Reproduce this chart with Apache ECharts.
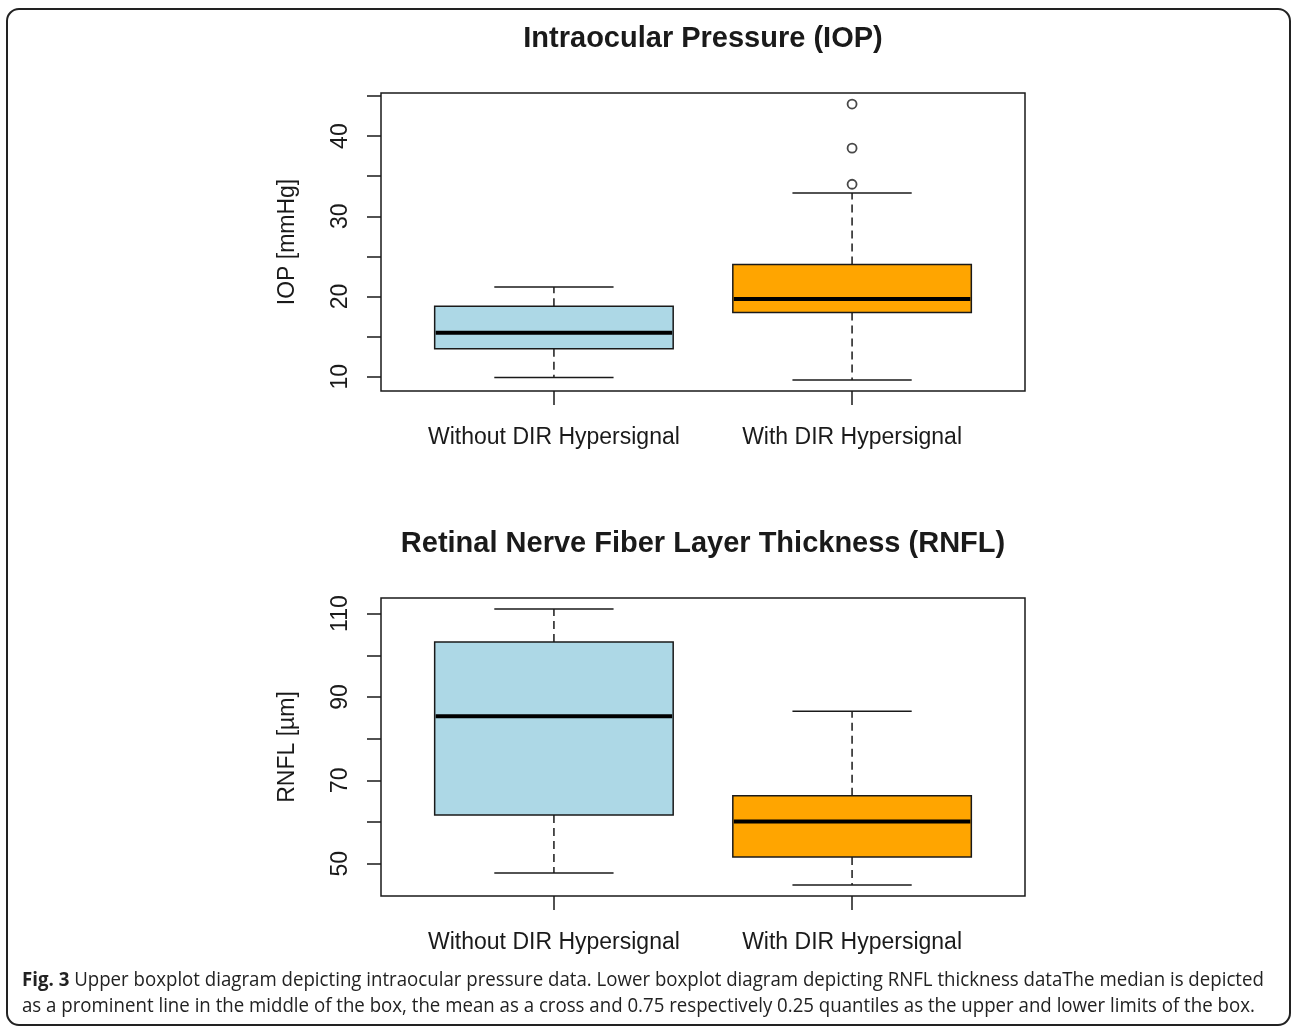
<!DOCTYPE html>
<html>
<head>
<meta charset="utf-8">
<title>IOP and RNFL boxplots</title>
<script src="https://cdn.jsdelivr.net/npm/echarts@6/dist/echarts.min.js"></script>
<style>
  html, body { margin: 0; padding: 0; background: #fff; }
  #chart { width: 1292px; height: 1027px; }
</style>
</head>
<body>
<div id="chart"></div>
<script>
// groups on the x axis (positions 1 and 2)
const groups = ['Without DIR Hypersignal', 'With DIR Hypersignal'];

// five-number summaries: [lower whisker, Q1, median, Q3, upper whisker]
const iopStats = [
  [9.9, 13.5, 15.5, 18.8, 21.2],
  [9.6, 18.0, 19.7, 24.0, 32.9]
];
const iopOutliers = [[], [34.0, 38.5, 44.0]];

const rnflStats = [
  [47.8, 61.7, 85.4, 103.2, 111.1],
  [44.9, 51.6, 60.1, 66.3, 86.6]
];
const rnflOutliers = [[], []];

// tick marks / labelled ticks
const iopTicks = [10, 15, 20, 25, 30, 35, 40, 45];
const iopLabels = [10, 20, 30, 40];
const rnflTicks = [50, 60, 70, 80, 90, 100, 110];
const rnflLabels = [50, 70, 90, 110];

const boxColors = ['#ADD8E6', '#FFA500'];
const ink = '#1a1a1a';
const rFont = '"Liberation Sans", Arial, sans-serif';

// R-like limits: data range padded 4% each side
function limits(stats, outliers) {
  let lo = Infinity, hi = -Infinity;
  stats.forEach((s, i) => {
    s.concat(outliers[i]).forEach(v => { lo = Math.min(lo, v); hi = Math.max(hi, v); });
  });
  const pad = (hi - lo) * 0.04;
  return [lo - pad, hi + pad];
}

function renderBox(params, api) {
  const x = api.value(0);
  const lo = api.coord([x, api.value(1)]);
  const q1 = api.coord([x, api.value(2)]);
  const med = api.coord([x, api.value(3)]);
  const q3 = api.coord([x, api.value(4)]);
  const hi = api.coord([x, api.value(5)]);
  const boxW = api.size([0.8, 0])[0];
  const capW = api.size([0.4, 0])[0];
  const cx = lo[0];
  const dashed = { stroke: ink, lineWidth: 1.5, lineDash: [8, 5] };
  const solid = { stroke: ink, lineWidth: 1.5 };
  return {
    type: 'group',
    children: [
      { type: 'line', shape: { x1: cx, y1: q3[1], x2: cx, y2: hi[1] }, style: dashed },
      { type: 'line', shape: { x1: cx, y1: q1[1], x2: cx, y2: lo[1] }, style: dashed },
      { type: 'line', shape: { x1: cx - capW / 2, y1: hi[1], x2: cx + capW / 2, y2: hi[1] }, style: solid },
      { type: 'line', shape: { x1: cx - capW / 2, y1: lo[1], x2: cx + capW / 2, y2: lo[1] }, style: solid },
      { type: 'rect', shape: { x: cx - boxW / 2, y: q3[1], width: boxW, height: q1[1] - q3[1] },
        style: { fill: boxColors[params.dataIndex], stroke: ink, lineWidth: 1.5 } },
      { type: 'line', shape: { x1: cx - boxW / 2 + 1, y1: med[1], x2: cx + boxW / 2 - 1, y2: med[1] },
        style: { stroke: '#000', lineWidth: 4 } }
    ]
  };
}

function boxData(stats) {
  return stats.map((s, i) => [i + 1].concat(s));
}
function outlierData(outliers) {
  const out = [];
  outliers.forEach((arr, i) => arr.forEach(v => out.push([i + 1, v])));
  return out;
}

const iopLim = limits(iopStats, iopOutliers);
const rnflLim = limits(rnflStats, rnflOutliers);

function xAxisFor(gridIndex) {
  return {
    type: 'value', gridIndex: gridIndex,
    min: 0.42, max: 2.58,
    splitLine: { show: false },
    axisLine: { show: false },
    axisTick: { show: true, customValues: [1, 2], length: 14, lineStyle: { color: ink, width: 1.5 } },
    axisLabel: {
      customValues: [1, 2], margin: 35,
      formatter: v => groups[Math.round(v) - 1] || '',
      fontFamily: rFont, fontSize: 23, color: ink
    }
  };
}
function yAxisFor(gridIndex, lim, ticks, labels, name) {
  return {
    type: 'value', gridIndex: gridIndex,
    min: lim[0], max: lim[1],
    name: name, nameLocation: 'middle', nameGap: 82,
    nameTextStyle: { fontFamily: rFont, fontSize: 23, color: ink },
    splitLine: { show: false },
    axisLine: { show: false },
    axisTick: { show: true, customValues: ticks, length: 14, lineStyle: { color: ink, width: 1.5 } },
    axisLabel: {
      customValues: labels, rotate: 90, margin: 29,
      fontFamily: rFont, fontSize: 23, color: ink
    }
  };
}

const chart = echarts.init(document.getElementById('chart'), null, { renderer: 'canvas' });
chart.setOption({
  animation: false,
  backgroundColor: '#fff',
  title: [
    { text: 'Intraocular Pressure (IOP)', left: 703, top: 24, textAlign: 'center', padding: 0,
      textStyle: { fontFamily: rFont, fontWeight: 'bold', fontSize: 29, color: ink } },
    { text: 'Retinal Nerve Fiber Layer Thickness (RNFL)', left: 703, top: 529, textAlign: 'center', padding: 0,
      textStyle: { fontFamily: rFont, fontWeight: 'bold', fontSize: 29, color: ink } }
  ],
  grid: [
    { left: 381, top: 93, width: 644, height: 298, show: true, borderColor: ink, borderWidth: 1.5, backgroundColor: 'transparent' },
    { left: 381, top: 598, width: 644, height: 298, show: true, borderColor: ink, borderWidth: 1.5, backgroundColor: 'transparent' }
  ],
  xAxis: [xAxisFor(0), xAxisFor(1)],
  yAxis: [
    yAxisFor(0, iopLim, iopTicks, iopLabels, 'IOP [mmHg]'),
    yAxisFor(1, rnflLim, rnflTicks, rnflLabels, 'RNFL [µm]')
  ],
  series: [
    { type: 'custom', name: 'IOP', xAxisIndex: 0, yAxisIndex: 0, renderItem: renderBox,
      encode: { x: 0, y: [1, 2, 3, 4, 5] }, data: boxData(iopStats) },
    { type: 'scatter', name: 'IOP outliers', xAxisIndex: 0, yAxisIndex: 0,
      symbol: 'circle', symbolSize: 9,
      itemStyle: { color: '#fff', borderColor: ink, borderWidth: 1.8 },
      data: outlierData(iopOutliers) },
    { type: 'custom', name: 'RNFL', xAxisIndex: 1, yAxisIndex: 1, renderItem: renderBox,
      encode: { x: 0, y: [1, 2, 3, 4, 5] }, data: boxData(rnflStats) },
    { type: 'scatter', name: 'RNFL outliers', xAxisIndex: 1, yAxisIndex: 1,
      symbol: 'circle', symbolSize: 9,
      itemStyle: { color: '#fff', borderColor: ink, borderWidth: 1.8 },
      data: outlierData(rnflOutliers) }
  ],
  graphic: [
    { type: 'rect', z: 100, silent: true,
      shape: { x: 7, y: 9, width: 1283, height: 1016, r: 12 },
      style: { fill: 'none', stroke: '#222', lineWidth: 2 } },
    { type: 'text', x: 22, y: 968, scaleX: 0.933,
      style: {
        text: '{b|Fig. 3} Upper boxplot diagram depicting intraocular pressure data. Lower boxplot diagram depicting RNFL thickness dataThe median is depicted\nas a prominent line in the middle of the box, the mean as a cross and 0.75 respectively 0.25 quantiles as the upper and lower limits of the box.',
        fontFamily: '"Open Sans", "Noto Sans", sans-serif', fontSize: 20, lineHeight: 25.5, fill: '#222',
        rich: { b: { fontFamily: '"Open Sans", "Noto Sans", sans-serif', fontWeight: 'bold', fontSize: 20, lineHeight: 25.5, fill: '#222' } }
      } }
  ]
});
</script>
</body>
</html>
